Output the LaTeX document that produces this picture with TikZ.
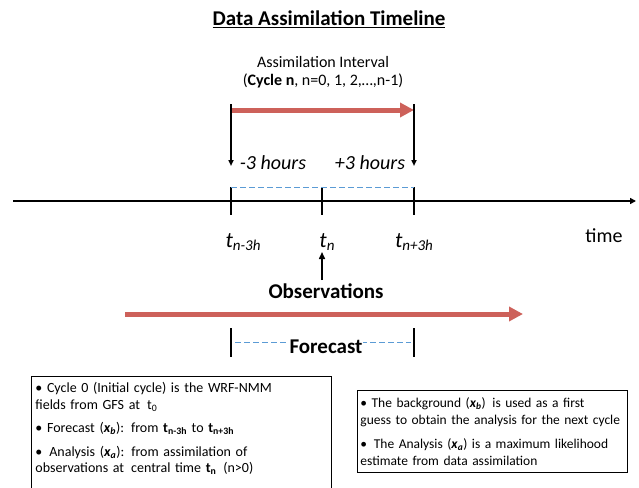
\documentclass[tikz,border=0pt]{standalone}
\usepackage{fontspec}
\setmainfont{Carlito}
\usetikzlibrary{arrows.meta,positioning}
\definecolor{cyclered}{RGB}{205,97,90}
\definecolor{dashblue}{RGB}{91,155,213}
% time with an italic subscript
\newcommand{\tsub}[1]{t\raisebox{-0.35ex}{\fontsize{15}{15}\selectfont #1}}
\newcommand{\vb}[1]{\textbf{\textit{x}}\textsubscript{\textbf{\textit{#1}}}}

\begin{document}
\begin{tikzpicture}[x=1pt,y=-1pt,
  redarrow/.style={draw=cyclered,line width=5pt,-{Triangle[length=14pt,width=14pt]}},
  tick/.style={line width=1.5pt},
  dashline/.style={draw=dashblue,line width=1pt,dash pattern=on 6pt off 3pt},
  note/.style={draw,line width=0.8pt,align=left,anchor=north west,inner xsep=4pt,inner ysep=4pt,
    font=\fontsize{14}{16.5}\selectfont},
  tlabel/.style={font=\fontsize{22}{24}\selectfont\itshape},
  hours/.style={font=\fontsize{20}{22}\selectfont\itshape}]
\useasboundingbox (0,0) rectangle (639,487);

\node (title) at (329,19) {\fontsize{21}{24}\selectfont\bfseries\underline{Data Assimilation Timeline}};
\node (intv) at (323,62) {\fontsize{16}{18}\selectfont Assimilation Interval};
\node (cycle) at (323,81) {\fontsize{16}{18}\selectfont(\textbf{Cycle n}, n=0, 1, 2,…,n-1)};

% the time axis
\coordinate (left) at (13,201);
\coordinate (right) at (636,201);
\coordinate (a) at (231,201);
\coordinate (c) at (322,201);
\coordinate (b) at (414,201);
\draw[line width=1.5pt,-{Triangle[length=6pt,width=6pt]}] (left) -- (right);
\foreach \p in {a,c,b}
  \draw[tick] ([yshift=14pt]\p) -- ([yshift=-14pt]\p);
\draw[dashline] ([yshift=14pt]a) -- ([yshift=14pt]b);

% interval
\coordinate (ia) at (231,104);
\coordinate (ib) at (414,104);
\draw[redarrow] ([xshift=1pt,yshift=-6pt]ia) -- ([yshift=-6pt]ib);
\draw[tick,-{Triangle[length=6pt,width=5pt]}] (ia) -- ([yshift=-62pt]ia);
\draw[tick,-{Triangle[length=6pt,width=5pt]}] (ib) -- ([yshift=-62pt]ib);
\node[hours] (minus) at (273,163) {-3 hours};
\node[hours] (plus) at (370,163) {+3 hours};

\node[tlabel] (ta) at (243,242) {\tsub{n-3h}};
\node[tlabel] (tn) at (327,242) {\tsub{n}};
\node[tlabel] (tb) at (414,242) {\tsub{n+3h}};
\node (time) at (604,236) {\fontsize{20}{22}\selectfont time};

% observations and forecast
\node (obs) at (326,291) {\fontsize{21}{24}\selectfont\bfseries Observations};
\draw[tick,-{Triangle[length=7pt,width=6pt]}] (obs.north -| c) -- (322,252);
\coordinate (fs) at (125,314);
\coordinate (fe) at (523,314);
\draw[redarrow] (fs) -- (fe);
\coordinate (fa) at (231,342);
\coordinate (fb) at (414,342);
\draw[tick] ([yshift=14pt]fa) -- ([yshift=-15pt]fa);
\draw[tick] ([yshift=14pt]fb) -- ([yshift=-15pt]fb);
\draw[dashline] ([xshift=4pt]fa) -- ([xshift=-3pt]fb);
\node[fill=white,inner sep=1pt] (fc) at (326,347) {\fontsize{21}{24}\selectfont\bfseries Forecast};

% notes (the left box runs on below the page)
\node[note,draw=none,text width=292pt,inner ysep=6pt] (cyc0) at (31,376) {%
  \textbullet{} Cycle 0 (Initial cycle) is the WRF-NMM\\
  fields from GFS at\, t\textsubscript{0}\\[7pt]
  \textbullet{} Forecast (\vb{b}): from \textbf{t}\textsubscript{\textbf{n-3h}} to \textbf{t}\textsubscript{\textbf{n+3h}}\\[7pt]
  \textbullet{}\, Analysis (\vb{a}): from assimilation of\\
  observations at\, central time \textbf{t}\textsubscript{\textbf{n}}\, (n>0)};
\draw[line width=0.8pt] (cyc0.north west) rectangle ([yshift=-40pt]cyc0.south east);
\node[note,text width=264pt,inner xsep=3pt,inner ysep=7pt,font=\fontsize{13.5}{17}\selectfont] (bg) at (357,390) {%
  \textbullet{} The background (\vb{b})\, is used as a first\\
  guess to obtain the analysis for the next cycle\\[7pt]
  \textbullet{}\, The Analysis (\vb{a}) is a maximum likelihood\\
  estimate from data assimilation};
\end{tikzpicture}
\end{document}
